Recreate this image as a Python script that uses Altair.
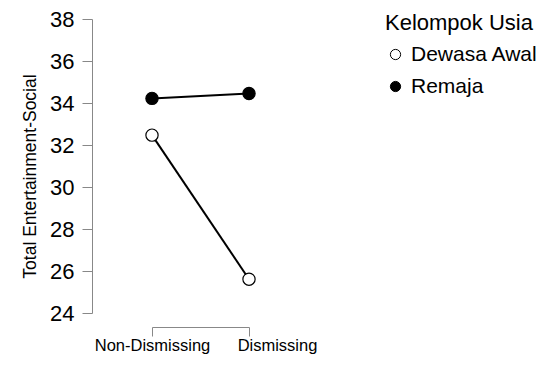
import altair as alt
import pandas as pd

categories = ["Non-Dismissing", "Dismissing"]
groups = ["Dewasa Awal", "Remaja"]
dewasa_awal = [32.47, 25.61]
remaja = [34.22, 34.45]

rows = []
for g, vals in zip(groups, [dewasa_awal, remaja]):
    for c, v in zip(categories, vals):
        rows.append({"kategori": c, "kelompok": g, "nilai": v})
df = pd.DataFrame(rows)

FONT = "Liberation Sans"

x = alt.X("kategori:N", sort=categories,
          scale=alt.Scale(type="point", padding=0),
          axis=alt.Axis(title=None, labelAngle=0, labelFontSize=16.5, labelColor="black",
                        labelFont=FONT, labelPadding=1, tickSize=9, tickColor="#888",
                        domainColor="#888", offset=14, labelFlush=False, grid=False,
                        labelOverlap=False,
                        labelOffset=alt.condition("datum.value == 'Dismissing'",
                                                  alt.value(28), alt.value(0))))
y = alt.Y("nilai:Q", scale=alt.Scale(domain=[24, 38], nice=False, zero=False),
          axis=alt.Axis(title="Total Entertainment-Social", values=list(range(24, 39, 2)),
                        labelFontSize=22, labelColor="black", labelFont=FONT,
                        titleFontSize=17.5, titleFont=FONT, titleFontWeight="normal",
                        titleColor="black", titlePadding=10, titleY=157, grid=False, tickSize=10,
                        tickColor="#888", domainColor="#888", offset=60, labelPadding=8))

lines = alt.Chart(df).mark_line(color="black", strokeWidth=2).encode(
    x=x, y=y, detail="kelompok:N")

points = alt.Chart(df).mark_point(shape="circle", filled=True, size=150, stroke="black",
                                  strokeWidth=1.2, opacity=1).encode(
    x=x, y=y,
    fill=alt.Fill("kelompok:N",
                  scale=alt.Scale(domain=groups, range=["white", "black"]),
                  legend=alt.Legend(title="Kelompok Usia", orient="none", legendX=233, legendY=-6,
                                    titleFontSize=22, titleFont=FONT, titleFontWeight="normal",
                                    titleColor="black", labelFontSize=21, labelFont=FONT,
                                    labelColor="black", symbolType="circle", symbolSize=105,
                                    symbolStrokeColor="black", symbolStrokeWidth=1,
                                    rowPadding=10, titlePadding=9, labelOffset=5)))

chart = alt.layer(lines, points).properties(
    width=97, height=294,
    background="white",
    autosize=alt.AutoSizeParams(type="none"),
    padding={"left": 144, "top": 11, "right": 293, "bottom": 44},
).configure_view(strokeWidth=0, stroke="transparent")

chart.save("out.html", embed_options={"renderer": "svg", "actions": False})
